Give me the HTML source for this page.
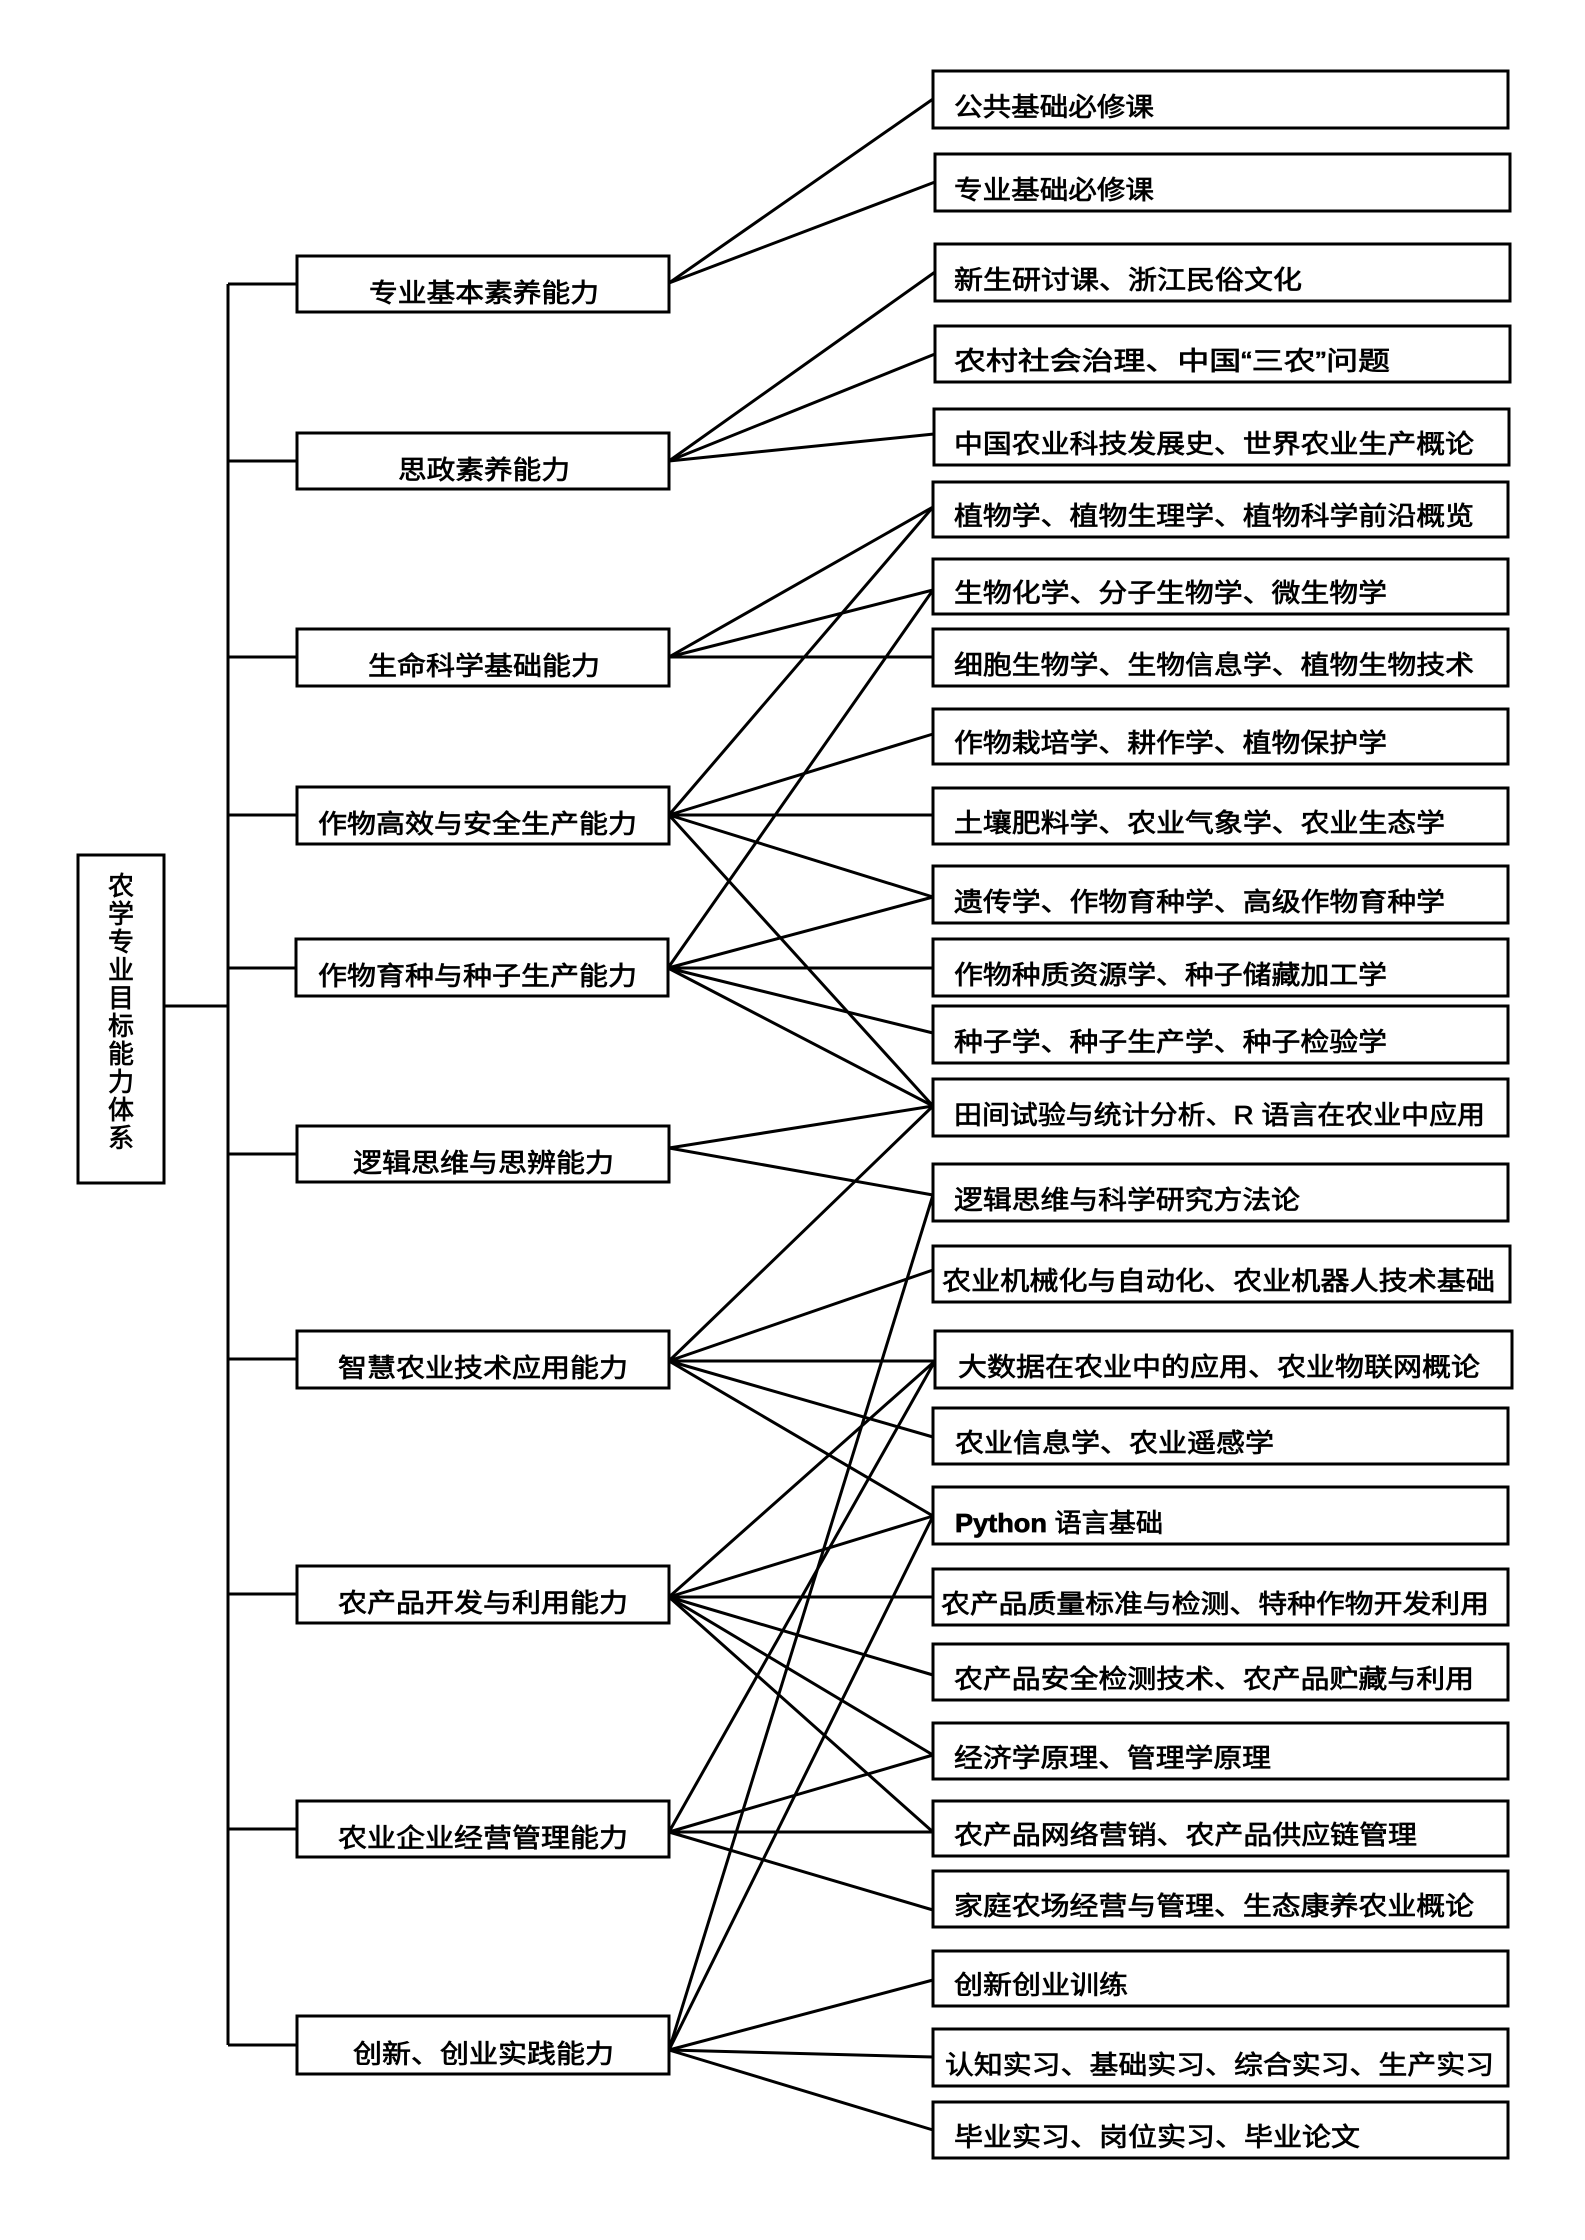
<!DOCTYPE html>
<html><head><meta charset="utf-8"><style>
html,body{margin:0;padding:0;background:#fff;}
svg{display:block;}
text{font-family:"Liberation Sans","Noto Sans CJK SC",sans-serif;font-size:26px;fill:#000;stroke:#000;stroke-width:0.7;}
</style></head><body>
<svg width="1585" height="2240" viewBox="0 0 1585 2240" xmlns="http://www.w3.org/2000/svg">
<g stroke="#000" stroke-width="3" fill="none">
<rect x="78" y="855" width="86" height="328"/>
<line x1="164" y1="1006" x2="228" y2="1006"/>
<line x1="228" y1="284" x2="228" y2="2045"/>
<line x1="228" y1="284" x2="297" y2="284"/>
<line x1="228" y1="461" x2="297" y2="461"/>
<line x1="228" y1="657" x2="297" y2="657"/>
<line x1="228" y1="815" x2="297" y2="815"/>
<line x1="228" y1="968" x2="297" y2="968"/>
<line x1="228" y1="1154" x2="297" y2="1154"/>
<line x1="228" y1="1359" x2="297" y2="1359"/>
<line x1="228" y1="1594" x2="297" y2="1594"/>
<line x1="228" y1="1829" x2="297" y2="1829"/>
<line x1="228" y1="2045" x2="297" y2="2045"/>
<rect x="297" y="256" width="372" height="56"/>
<rect x="297" y="433" width="372" height="56"/>
<rect x="297" y="629" width="372" height="57"/>
<rect x="297" y="787" width="372" height="57"/>
<rect x="296" y="939" width="372" height="57"/>
<rect x="297" y="1126" width="372" height="56"/>
<rect x="297" y="1331" width="372" height="57"/>
<rect x="297" y="1566" width="372" height="57"/>
<rect x="297" y="1801" width="372" height="56"/>
<rect x="297" y="2016" width="372" height="58"/>
<rect x="933" y="71" width="575" height="57"/>
<rect x="935" y="154" width="575" height="57"/>
<rect x="935" y="244" width="575" height="57"/>
<rect x="935" y="326" width="575" height="56"/>
<rect x="934" y="409" width="575" height="56"/>
<rect x="933" y="482" width="575" height="55"/>
<rect x="933" y="559" width="575" height="55"/>
<rect x="933" y="629" width="575" height="57"/>
<rect x="933" y="709" width="575" height="55"/>
<rect x="933" y="788" width="575" height="56"/>
<rect x="933" y="866" width="575" height="57"/>
<rect x="933" y="939" width="575" height="57"/>
<rect x="933" y="1006" width="575" height="57"/>
<rect x="933" y="1079" width="575" height="57"/>
<rect x="933" y="1164" width="575" height="57"/>
<rect x="933" y="1246" width="577" height="56"/>
<rect x="935" y="1331" width="577" height="57"/>
<rect x="933" y="1408" width="575" height="56"/>
<rect x="933" y="1487" width="575" height="57"/>
<rect x="933" y="1569" width="575" height="56"/>
<rect x="933" y="1644" width="575" height="56"/>
<rect x="933" y="1723" width="575" height="56"/>
<rect x="933" y="1801" width="575" height="55"/>
<rect x="933" y="1871" width="575" height="56"/>
<rect x="933" y="1951" width="575" height="55"/>
<rect x="933" y="2029" width="575" height="57"/>
<rect x="933" y="2102" width="575" height="56"/>
<line x1="669" y1="283" x2="933" y2="99"/>
<line x1="669" y1="283" x2="935" y2="182"/>
<line x1="669" y1="461" x2="935" y2="272"/>
<line x1="669" y1="461" x2="935" y2="354"/>
<line x1="669" y1="461" x2="934" y2="434"/>
<line x1="669" y1="657" x2="933" y2="507"/>
<line x1="669" y1="657" x2="933" y2="590"/>
<line x1="669" y1="657" x2="933" y2="657"/>
<line x1="669" y1="815" x2="933" y2="507"/>
<line x1="669" y1="815" x2="933" y2="734"/>
<line x1="669" y1="815" x2="933" y2="815"/>
<line x1="669" y1="815" x2="933" y2="897"/>
<line x1="669" y1="815" x2="933" y2="1106"/>
<line x1="668" y1="968" x2="933" y2="590"/>
<line x1="668" y1="968" x2="933" y2="897"/>
<line x1="668" y1="968" x2="933" y2="968"/>
<line x1="668" y1="968" x2="933" y2="1033"/>
<line x1="668" y1="968" x2="933" y2="1106"/>
<line x1="669" y1="1148" x2="933" y2="1106"/>
<line x1="669" y1="1148" x2="933" y2="1195"/>
<line x1="669" y1="1361" x2="933" y2="1106"/>
<line x1="669" y1="1361" x2="933" y2="1270"/>
<line x1="669" y1="1361" x2="935" y2="1361"/>
<line x1="669" y1="1361" x2="933" y2="1437"/>
<line x1="669" y1="1361" x2="933" y2="1516"/>
<line x1="669" y1="1597" x2="935" y2="1361"/>
<line x1="669" y1="1597" x2="933" y2="1516"/>
<line x1="669" y1="1597" x2="933" y2="1597"/>
<line x1="669" y1="1597" x2="933" y2="1675"/>
<line x1="669" y1="1597" x2="933" y2="1755"/>
<line x1="669" y1="1597" x2="933" y2="1832"/>
<line x1="669" y1="1832" x2="935" y2="1361"/>
<line x1="669" y1="1832" x2="933" y2="1755"/>
<line x1="669" y1="1832" x2="933" y2="1832"/>
<line x1="669" y1="1832" x2="933" y2="1910"/>
<line x1="669" y1="2050" x2="933" y2="1195"/>
<line x1="669" y1="2050" x2="933" y2="1516"/>
<line x1="669" y1="2050" x2="933" y2="1980"/>
<line x1="669" y1="2050" x2="933" y2="2057"/>
<line x1="669" y1="2050" x2="933" y2="2130"/>
</g>
<g style="stroke-width:1">
<text x="121" y="895" text-anchor="middle" font-size="28">农</text>
<text x="121" y="923" text-anchor="middle" font-size="28">学</text>
<text x="121" y="951" text-anchor="middle" font-size="28">专</text>
<text x="121" y="979" text-anchor="middle" font-size="28">业</text>
<text x="121" y="1007" text-anchor="middle" font-size="28">目</text>
<text x="121" y="1035" text-anchor="middle" font-size="28">标</text>
<text x="121" y="1063" text-anchor="middle" font-size="28">能</text>
<text x="121" y="1091" text-anchor="middle" font-size="28">力</text>
<text x="121" y="1119" text-anchor="middle" font-size="28">体</text>
<text x="121" y="1147" text-anchor="middle" font-size="28">系</text>
</g>
<g>
<text x="369" y="302" textLength="230" lengthAdjust="spacingAndGlyphs">专业基本素养能力</text>
<text x="398" y="479" textLength="172" lengthAdjust="spacingAndGlyphs">思政素养能力</text>
<text x="368" y="675" textLength="232" lengthAdjust="spacingAndGlyphs">生命科学基础能力</text>
<text x="318" y="833" textLength="319" lengthAdjust="spacingAndGlyphs">作物高效与安全生产能力</text>
<text x="318" y="985" textLength="319" lengthAdjust="spacingAndGlyphs">作物育种与种子生产能力</text>
<text x="353" y="1172" textLength="261" lengthAdjust="spacingAndGlyphs">逻辑思维与思辨能力</text>
<text x="338" y="1377" textLength="290" lengthAdjust="spacingAndGlyphs">智慧农业技术应用能力</text>
<text x="338" y="1612" textLength="290" lengthAdjust="spacingAndGlyphs">农产品开发与利用能力</text>
<text x="338" y="1847" textLength="290" lengthAdjust="spacingAndGlyphs">农业企业经营管理能力</text>
<text x="353" y="2063" textLength="261" lengthAdjust="spacingAndGlyphs">创新、创业实践能力</text>
</g>
<g>
<text x="954" y="116" textLength="200" lengthAdjust="spacingAndGlyphs">公共基础必修课</text>
<text x="954" y="199" textLength="200" lengthAdjust="spacingAndGlyphs">专业基础必修课</text>
<text x="954" y="289" textLength="348" lengthAdjust="spacingAndGlyphs">新生研讨课、浙江民俗文化</text>
<text x="954" y="370" textLength="436" lengthAdjust="spacingAndGlyphs">农村社会治理、中国“三农”问题</text>
<text x="954" y="453" textLength="520" lengthAdjust="spacingAndGlyphs">中国农业科技发展史、世界农业生产概论</text>
<text x="954" y="525" textLength="520" lengthAdjust="spacingAndGlyphs">植物学、植物生理学、植物科学前沿概览</text>
<text x="954" y="602" textLength="433" lengthAdjust="spacingAndGlyphs">生物化学、分子生物学、微生物学</text>
<text x="954" y="674" textLength="520" lengthAdjust="spacingAndGlyphs">细胞生物学、生物信息学、植物生物技术</text>
<text x="954" y="752" textLength="433" lengthAdjust="spacingAndGlyphs">作物栽培学、耕作学、植物保护学</text>
<text x="954" y="832" textLength="491" lengthAdjust="spacingAndGlyphs">土壤肥料学、农业气象学、农业生态学</text>
<text x="954" y="911" textLength="491" lengthAdjust="spacingAndGlyphs">遗传学、作物育种学、高级作物育种学</text>
<text x="954" y="984" textLength="433" lengthAdjust="spacingAndGlyphs">作物种质资源学、种子储藏加工学</text>
<text x="954" y="1051" textLength="433" lengthAdjust="spacingAndGlyphs">种子学、种子生产学、种子检验学</text>
<text x="954" y="1124" textLength="531" lengthAdjust="spacingAndGlyphs">田间试验与统计分析、R 语言在农业中应用</text>
<text x="954" y="1209" textLength="346" lengthAdjust="spacingAndGlyphs">逻辑思维与科学研究方法论</text>
<text x="942" y="1290" textLength="553" lengthAdjust="spacingAndGlyphs">农业机械化与自动化、农业机器人技术基础</text>
<text x="958" y="1376" textLength="522" lengthAdjust="spacingAndGlyphs">大数据在农业中的应用、农业物联网概论</text>
<text x="955" y="1452" textLength="319" lengthAdjust="spacingAndGlyphs">农业信息学、农业遥感学</text>
<text x="955" y="1532" textLength="208" lengthAdjust="spacingAndGlyphs" font-weight="bold">Python <tspan font-weight="normal">语言基础</tspan></text>
<text x="941" y="1613" textLength="548" lengthAdjust="spacingAndGlyphs">农产品质量标准与检测、特种作物开发利用</text>
<text x="954" y="1688" textLength="520" lengthAdjust="spacingAndGlyphs">农产品安全检测技术、农产品贮藏与利用</text>
<text x="954" y="1767" textLength="317" lengthAdjust="spacingAndGlyphs">经济学原理、管理学原理</text>
<text x="954" y="1844" textLength="463" lengthAdjust="spacingAndGlyphs">农产品网络营销、农产品供应链管理</text>
<text x="954" y="1915" textLength="520" lengthAdjust="spacingAndGlyphs">家庭农场经营与管理、生态康养农业概论</text>
<text x="954" y="1994" textLength="174" lengthAdjust="spacingAndGlyphs">创新创业训练</text>
<text x="945" y="2074" textLength="549" lengthAdjust="spacingAndGlyphs">认知实习、基础实习、综合实习、生产实习</text>
<text x="954" y="2146" textLength="406" lengthAdjust="spacingAndGlyphs">毕业实习、岗位实习、毕业论文</text>
</g>
</svg>
</body></html>
